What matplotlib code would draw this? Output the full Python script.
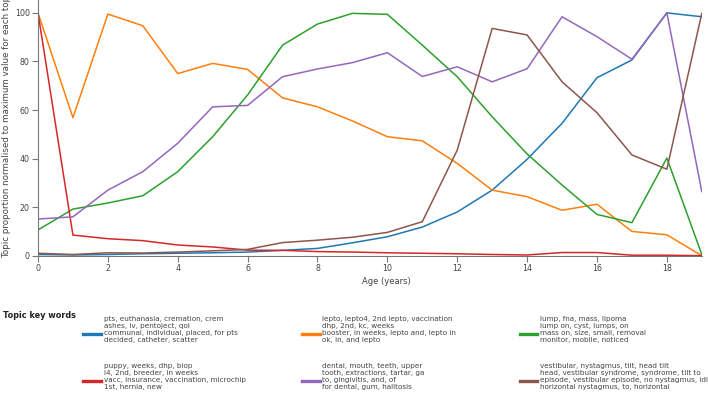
import matplotlib.pyplot as plt
from matplotlib.lines import Line2D

# Age (years) on x axis
ages = list(range(20))

# Topic proportion normalised to max value for each topic
pts_topic = [0.5, 0.3, 0.5, 0.8, 1.0, 1.2, 1.5, 2.2, 3.0, 5.3, 7.8, 11.8, 18.0, 27.0, 39.7, 54.5, 73.3, 80.6, 100.0, 98.4]
lepto_topic = [100.0, 56.8, 99.5, 94.7, 75.0, 79.2, 76.7, 65.0, 61.3, 55.5, 49.0, 47.3, 38.0, 27.0, 24.3, 18.7, 21.2, 10.0, 8.6, 0.0]
lump_topic = [10.6, 19.2, 21.7, 24.7, 34.6, 49.0, 66.2, 86.7, 95.4, 99.8, 99.4, 86.7, 73.7, 57.2, 41.9, 29.1, 17.0, 13.6, 40.2, 0.5]
puppy_topic = [100.0, 8.5, 7.0, 6.2, 4.4, 3.6, 2.3, 2.2, 1.7, 1.5, 1.2, 1.0, 0.8, 0.5, 0.3, 1.3, 1.3, 0.2, 0.2, 0.0]
dental_topic = [15.1, 16.0, 27.0, 34.6, 46.3, 61.3, 61.9, 73.7, 76.9, 79.5, 83.6, 73.8, 77.8, 71.6, 77.0, 98.4, 90.2, 80.9, 100.0, 26.4]
vestib_topic = [1.0, 0.5, 1.2, 1.1, 1.5, 2.0, 2.6, 5.4, 6.4, 7.6, 9.6, 14.0, 43.5, 93.6, 90.9, 71.6, 58.9, 41.5, 35.6, 99.8]

series = [pts_topic, lepto_topic, lump_topic, puppy_topic, dental_topic, vestib_topic]
colors = ['#1f77b4', '#ff7f0e', '#2ca02c', '#d62728', '#9467bd', '#8c564b']

# Legend key words, one block per topic
key_words = [
    "pts, euthanasia, cremation, crem\nashes, iv, pentoject, qol\ncommunal, individual, placed, for pts\ndecided, catheter, scatter",
    "lepto, lepto4, 2nd lepto, vaccination\ndhp, 2nd, kc, weeks\nbooster, in weeks, lepto and, lepto in\nok, in, and lepto",
    "lump, fna, mass, lipoma\nlump on, cyst, lumps, on\nmass on, size, small, removal\nmonitor, mobile, noticed",
    "puppy, weeks, dhp, biop\nl4, 2nd, breeder, in weeks\nvacc, insurance, vaccination, microchip\n1st, hernia, new",
    "dental, mouth, teeth, upper\ntooth, extractions, tartar, ga\nto, gingivitis, and, of\nfor dental, gum, halitosis",
    "vestibular, nystagmus, tilt, head tilt\nhead, vestibular syndrome, syndrome, tilt to\nepisode, vestibular episode, no nystagmus, idiopathic\nhorizontal nystagmus, to, horizontal",
]

W, H = 708, 396
fig = plt.figure(figsize=(W / 100, H / 100), dpi=100)
ax = fig.add_axes([38 / W, 1 - 255.7 / H, (701.8 - 38) / W, 255.7 / H])

for vals, c in zip(series, colors):
    ax.plot(ages, vals, color=c, linewidth=1.1)

ax.set_xlim(0, 19)
ax.set_ylim(0, 105.3)
ax.set_xticks(range(0, 19, 2))
ax.set_yticks(range(0, 101, 20))
for s in ['top', 'right']:
    ax.spines[s].set_visible(False)
for s in ['left', 'bottom']:
    ax.spines[s].set_color('#777777')
    ax.spines[s].set_linewidth(0.8)
ax.tick_params(direction='out', length=4, width=0.8, color='#777777',
               labelsize=5.7, labelcolor='#444444', pad=2)

fig.text(386 / W, 1 - 282 / H, 'Age (years)', ha='center', va='center',
         fontsize=6.0, color='#444444')
fig.text(7 / W, 1 - 258 / H, 'Topic proportion normalised to maximum value for each topic',
         rotation=90, ha='center', va='bottom', fontsize=6.3, color='#444444')

# Legend drawn as figure text
fig.text(3 / W, 1 - 315 / H, 'Topic key words', ha='left', va='center',
         fontsize=5.9, fontweight='bold', color='#222222')
col_line_x = [(83, 101), (302, 320), (520, 537)]
col_text_x = [104, 322, 540]
row_mid_y = [329.5, 376.5]
for i, (words, c) in enumerate(zip(key_words, colors)):
    col, row = i % 3, i // 3
    y = row_mid_y[row]
    x0, x1 = col_line_x[col]
    fig.add_artist(Line2D([x0 / W, x1 / W], [1 - (y + 4) / H, 1 - (y + 4) / H],
                          color=c, linewidth=2.4, transform=fig.transFigure))
    fig.text(col_text_x[col] / W, 1 - y / H, words, ha='left', va='center',
             fontsize=5.2, color='#444444', linespacing=1.25)

fig.savefig('out.png', dpi=100)
